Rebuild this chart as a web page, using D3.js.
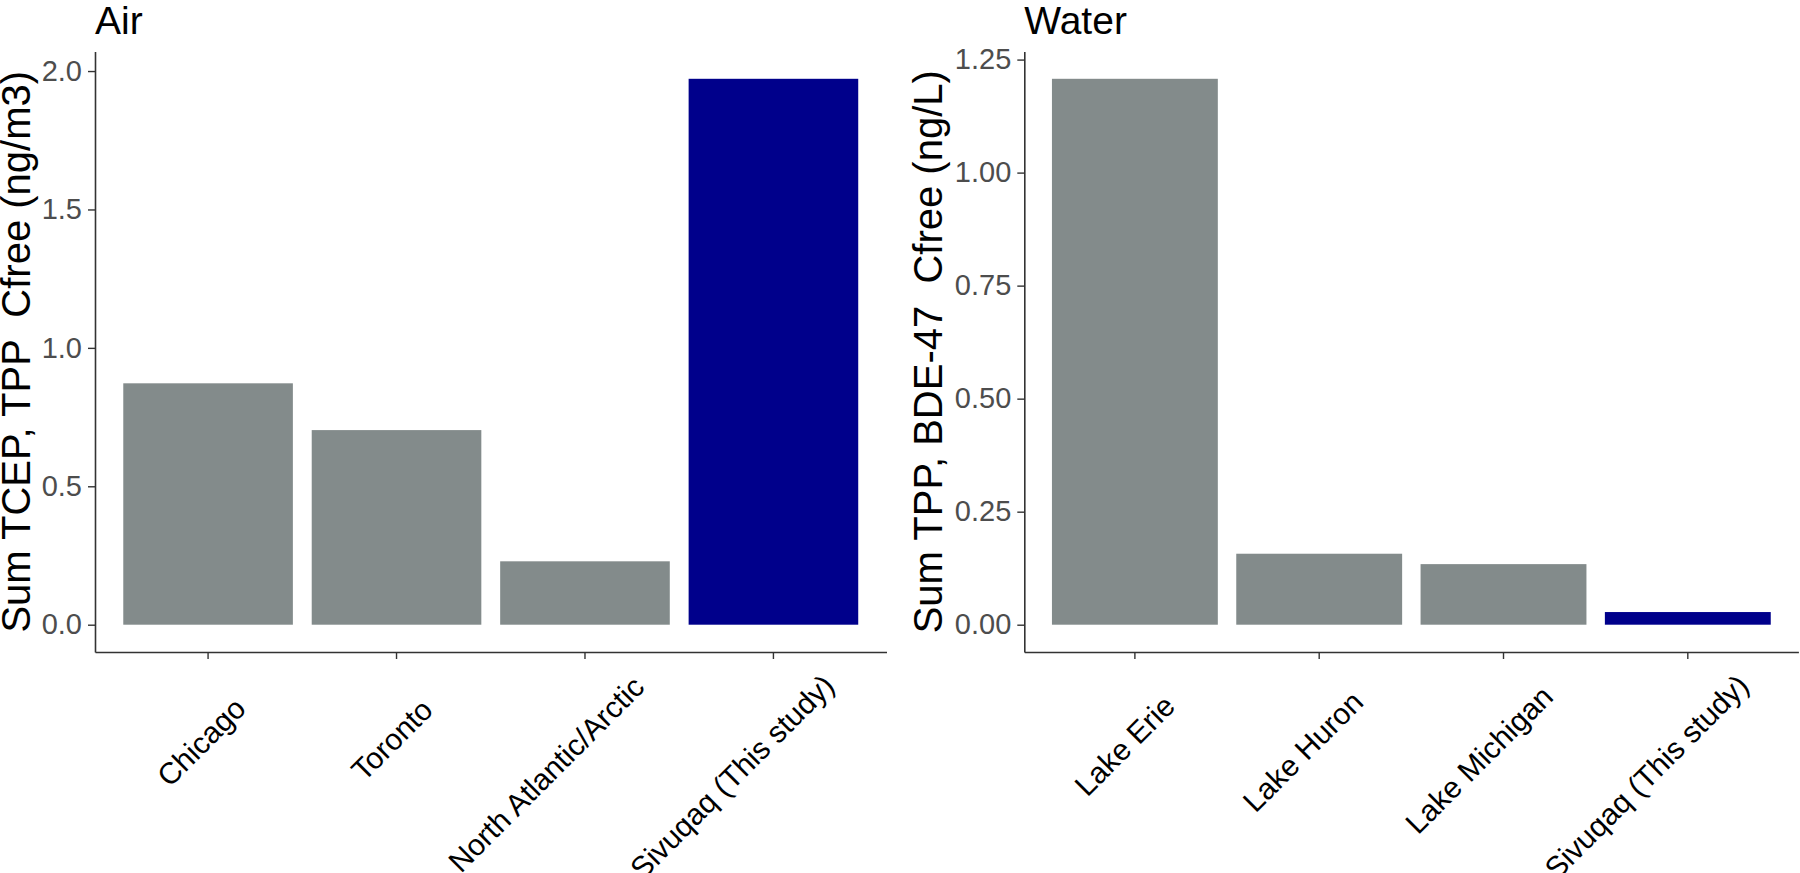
<!DOCTYPE html>
<html>
<head>
<meta charset="utf-8">
<script src="https://cdn.jsdelivr.net/npm/d3@7"></script>
<style>
  body { margin: 0; background: #ffffff; }
  svg text { font-family: "Liberation Sans", Arial, sans-serif; }
</style>
</head>
<body>
<div id="chart"></div>
<script>
// data
var air_sites   = ["Chicago", "Toronto", "North Atlantic/Arctic", "Sivuqaq (This study)"];
var air_values  = [0.872, 0.703, 0.229, 1.972];
var air_ticks   = [0, 0.5, 1.0, 1.5, 2.0];

var water_sites  = ["Lake Erie", "Lake Huron", "Lake Michigan", "Sivuqaq (This study)"];
var water_values = [1.2075, 0.157, 0.134, 0.028];
var water_ticks  = [0, 0.25, 0.5, 0.75, 1.0, 1.25];

var width_chart  = 1800;
var height_chart = 873;
var color_other  = "#838B8B";
var color_study  = "#00008B";

var svg_chart = d3.select("#chart").append("svg")
  .attr("width", width_chart)
  .attr("height", height_chart);

function draw_panel (opts) {
  var top = 51.5, bottom = 652;
  var max_v = d3.max(opts.values);

  var x = d3.scaleBand()
    .domain(opts.sites)
    .range([opts.left, opts.right])
    .paddingInner(0.1)
    .paddingOuter(0.15);

  var y = d3.scaleLinear()
    .domain([-0.05*max_v, 1.05*max_v])
    .range([bottom, top]);

  var g = svg_chart.append("g");

  // bars
  g.selectAll("rect.bar")
    .data(opts.values)
    .enter().append("rect")
    .attr("class", "bar")
    .attr("x", function (d, i) { return x(opts.sites[i]); })
    .attr("width", x.bandwidth())
    .attr("y", function (d) { return y(d); })
    .attr("height", function (d) { return y(0) - y(d); })
    .attr("fill", function (d, i) { return i == opts.sites.length - 1 ? color_study : color_other; });

  // y axis
  var axis_y = g.append("g")
    .attr("transform", "translate(" + opts.left + ",0)")
    .call(d3.axisLeft(y).tickValues(opts.ticks).tickFormat(d3.format(opts.fmt))
      .tickSize(7).tickPadding(6).tickSizeOuter(0));
  axis_y.select(".domain").attr("stroke", "#333333").attr("stroke-width", 1.6);
  axis_y.selectAll(".tick line").attr("stroke", "#333333").attr("stroke-width", 1.4);
  axis_y.selectAll(".tick text")
    .attr("fill", "#4D4D4D")
    .style("font-size", "29px")
    .style("font-family", "'Liberation Sans', Arial, sans-serif");

  // x axis
  var axis_x = g.append("g")
    .attr("transform", "translate(0," + bottom + ")")
    .call(d3.axisBottom(x).tickSize(7).tickSizeOuter(0).tickFormat(""));
  axis_x.select(".domain").attr("stroke", "#333333").attr("stroke-width", 1.6);
  axis_x.selectAll(".tick line").attr("stroke", "#333333").attr("stroke-width", 1.4);

  // rotated category labels
  g.selectAll("text.xlab")
    .data(opts.sites)
    .enter().append("text")
    .attr("class", "xlab")
    .attr("transform", function (d) {
      return "translate(" + (x(d) + x.bandwidth()/2 + 24) + ",726) rotate(-45)";
    })
    .attr("text-anchor", "end")
    .attr("fill", "#000000")
    .style("font-size", "30px")
    .text(function (d) { return d; })
    .attr("x", function () { return 0.2*this.getComputedTextLength(); });

  // panel title
  g.append("text")
    .attr("x", opts.left)
    .attr("y", 34)
    .attr("fill", "#000000")
    .style("font-size", "39px")
    .text(opts.title);

  // y title
  g.append("text")
    .attr("transform", "translate(" + opts.ytitle_x + "," + ((top + bottom)/2) + ") rotate(-90)")
    .attr("text-anchor", "middle")
    .attr("fill", "#000000")
    .style("font-size", "40px")
    .style("white-space", "pre")
    .text(opts.ytitle);
}

draw_panel({
  sites: air_sites, values: air_values, ticks: air_ticks, fmt: ".1f",
  left: 95, right: 886.5, title: "Air",
  ytitle: "Sum TCEP, TPP  Cfree (ng/m3)", ytitle_x: 30
});

draw_panel({
  sites: water_sites, values: water_values, ticks: water_ticks, fmt: ".2f",
  left: 1024.3, right: 1798.4, title: "Water",
  ytitle: "Sum TPP, BDE-47  Cfree (ng/L)", ytitle_x: 942
});
</script>
</body>
</html>
